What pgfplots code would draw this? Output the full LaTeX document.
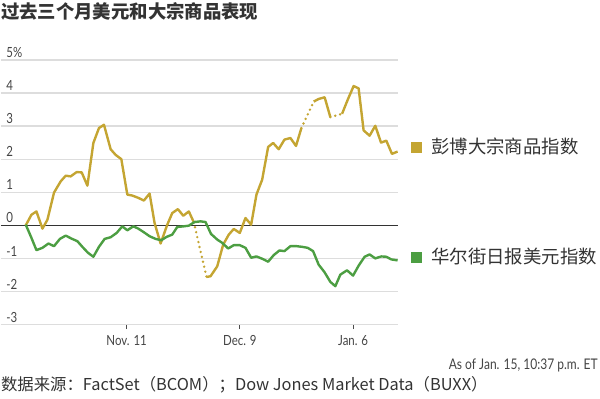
\documentclass[border=0pt]{standalone}
\usepackage{pgfplots}
\pgfplotsset{compat=1.18}
\usepackage{fontspec}
\setmainfont{Lato}
\newfontfamily\narrow[FakeStretch=0.82]{Lato}
\newfontfamily\cjk{Noto Sans CJK SC}
\definecolor{gold}{HTML}{C4A532}
\definecolor{grn}{HTML}{4C9E42}
\definecolor{txt}{HTML}{333333}
\definecolor{tick}{HTML}{444444}
\definecolor{gridc}{HTML}{DDDDDD}

\begin{document}
\begin{tikzpicture}
\begin{scope}[x=0.75pt,y=-0.75pt]
\path[use as bounding box] (0,0) rectangle (600,399);
\end{scope}
\begin{axis}[
  at={(0pt,-243.75pt)}, anchor=south west,
  scale only axis, width=298.5pt, height=198.75pt,
  xmin=-31.11, xmax=67.16, ymin=-3, ymax=5,
  clip=false,
  axis line style={draw=none},
  ytick={-3,-2,-1,0,1,2,3,4,5},
  yticklabels={-3,-2,-1,0,1,2,3,4,5\%},
  ymajorgrids,
  major grid style={gridc, line width=1pt},
  extra y ticks={0}, extra y tick labels={},
  extra y tick style={ymajorgrids=true, major grid style={black!80, line width=1.2pt}},
  xtick={0,28,56},
  xticklabels={Nov. 11, Dec. 9, Jan. 6},
  xtick pos=left, ytick pos=left,
  xtick align=outside,
  major tick length=3.5pt,
  xtick style={draw=black!70, line width=0.8pt},
  ytick style={draw=none},
  tick label style={font=\narrow\fontsize{10.5}{12}\selectfont, text=tick},
  yticklabel style={anchor=south west, inner sep=0pt, xshift=4pt, yshift=1.5pt},
  xticklabel style={yshift=-1pt},
]
\addplot[gold, line width=1.8pt, line join=round] coordinates {
(-24.94,0) (-23.53,0.32) (-22.30,0.42) (-20.81,-0.10) (-19.58,0.17) (-17.95,0.99) (-16.30,1.33) (-15.06,1.50) (-13.83,1.48) (-12.35,1.61) (-11.11,1.60) (-9.70,1.20) (-8.22,2.49) (-6.84,2.94) (-5.60,3.04) (-3.95,2.30) (-2.72,2.13) (-1.31,2.00) (0.17,0.93) (1.41,0.90) (2.89,0.83) (4.27,0.75) (5.68,0.96) (6.91,0.07) (8.40,-0.55) (10.05,0.02) (11.28,0.37) (12.67,0.49) (14.00,0.29) (15.38,0.42) (16.62,0.09)};
\addplot[gold, line width=2pt, line cap=round, dash pattern=on 0pt off 3.8pt] coordinates {(16.62,0.09) (19.75,-1.56)};
\addplot[gold, line width=1.8pt, line join=round] coordinates {
(19.75,-1.56) (20.74,-1.54) (22.40,-1.24) (23.88,-0.58) (25.26,-0.28) (26.49,-0.11) (27.98,-0.23) (29.38,0.22) (30.79,0.02) (32.10,0.93) (33.51,1.38) (34.99,2.37) (36.22,2.49) (37.60,2.30) (39.01,2.59) (40.49,2.64) (41.88,2.40) (43.21,2.94)};
\addplot[gold, line width=2pt, line cap=round, dash pattern=on 0pt off 3.8pt] coordinates {(43.21,2.94) (46.25,3.74)};
\addplot[gold, line width=1.8pt, line join=round] coordinates {
(46.25,3.74) (47.48,3.82) (48.96,3.87) (50.37,3.27)};
\addplot[gold, line width=2pt, line cap=round, dash pattern=on 0pt off 3.8pt] coordinates {(50.37,3.27) (53.26,3.37)};
\addplot[gold, line width=1.8pt, line join=round] coordinates {
(53.26,3.37) (54.64,3.79) (56.12,4.21) (57.36,4.14) (58.59,2.87) (60.07,2.71) (61.48,3.01) (62.89,2.50) (64.20,2.56) (65.60,2.16) (66.99,2.23)};
\addplot[grn, line width=1.8pt, line join=round] coordinates {
(-24.94,0.02) (-23.53,-0.38) (-22.30,-0.75) (-20.81,-0.68) (-19.33,-0.55) (-17.95,-0.63) (-16.49,-0.41) (-15.06,-0.31) (-13.66,-0.40) (-12.17,-0.48) (-10.94,-0.65) (-9.56,-0.83) (-8.22,-0.95) (-6.84,-0.65) (-5.43,-0.41) (-3.95,-0.36) (-2.47,-0.23) (-1.06,-0.03) (0.17,-0.15) (1.65,-0.03) (2.89,-0.10) (4.27,-0.21) (5.68,-0.33) (7.16,-0.41) (8.57,-0.45) (9.88,-0.35) (11.28,-0.28) (12.52,-0.05) (14.15,-0.03) (15.38,-0.01) (16.79,0.10) (18.27,0.12) (19.51,0.10) (20.86,-0.26) (22.40,-0.43) (23.63,-0.53) (25.11,-0.70) (26.49,-0.60) (27.98,-0.60) (29.38,-0.68) (30.79,-0.98) (32.10,-0.94) (33.51,-1.01) (34.99,-1.10) (36.37,-0.90) (37.78,-0.76) (39.01,-0.78) (40.49,-0.63) (41.98,-0.63) (43.38,-0.65) (44.77,-0.68) (46.10,-0.78) (47.48,-1.19) (48.89,-1.41) (50.37,-1.71) (51.60,-1.84) (52.84,-1.49) (54.49,-1.36) (55.98,-1.52) (57.36,-1.22) (58.84,-0.95) (60.07,-0.88) (61.48,-1.00) (62.96,-0.94) (64.20,-0.95) (65.43,-1.03) (66.99,-1.06)};
\end{axis}
\begin{scope}[x=0.75pt,y=-0.75pt]
\node[anchor=base west, inner sep=0pt, font=\cjk\bfseries\fontsize{13.8}{16}\selectfont, text=txt] at (0,19) {过去三个月美元和大宗商品表现};
\node[anchor=base west, inner sep=0pt, font=\cjk\fontsize{13.8}{16}\selectfont, text=txt] at (410,153.5) {\textcolor{gold}{\raisebox{0.3pt}{\rule{8.25pt}{8.25pt}}}\hspace{7.5pt}彭博大宗商品指数};
\node[anchor=base west, inner sep=0pt, font=\cjk\fontsize{13.8}{16}\selectfont, text=txt] at (410,263.5) {\textcolor{grn}{\raisebox{0.3pt}{\rule{8.25pt}{8.25pt}}}\hspace{7.5pt}华尔街日报美元指数};
\node[anchor=base east, inner sep=0pt, font=\narrow\fontsize{11}{13}\selectfont, text=tick] at (598,370) {As of Jan. 15, 10:37 p.m. ET};
\node[anchor=base west, inner sep=0pt, font=\cjk\fontsize{12.3}{14}\selectfont, text=txt] at (0,391) {数据来源：FactSet（BCOM）；Dow Jones Market Data（BUXX）};
\end{scope}
\end{tikzpicture}
\end{document}
